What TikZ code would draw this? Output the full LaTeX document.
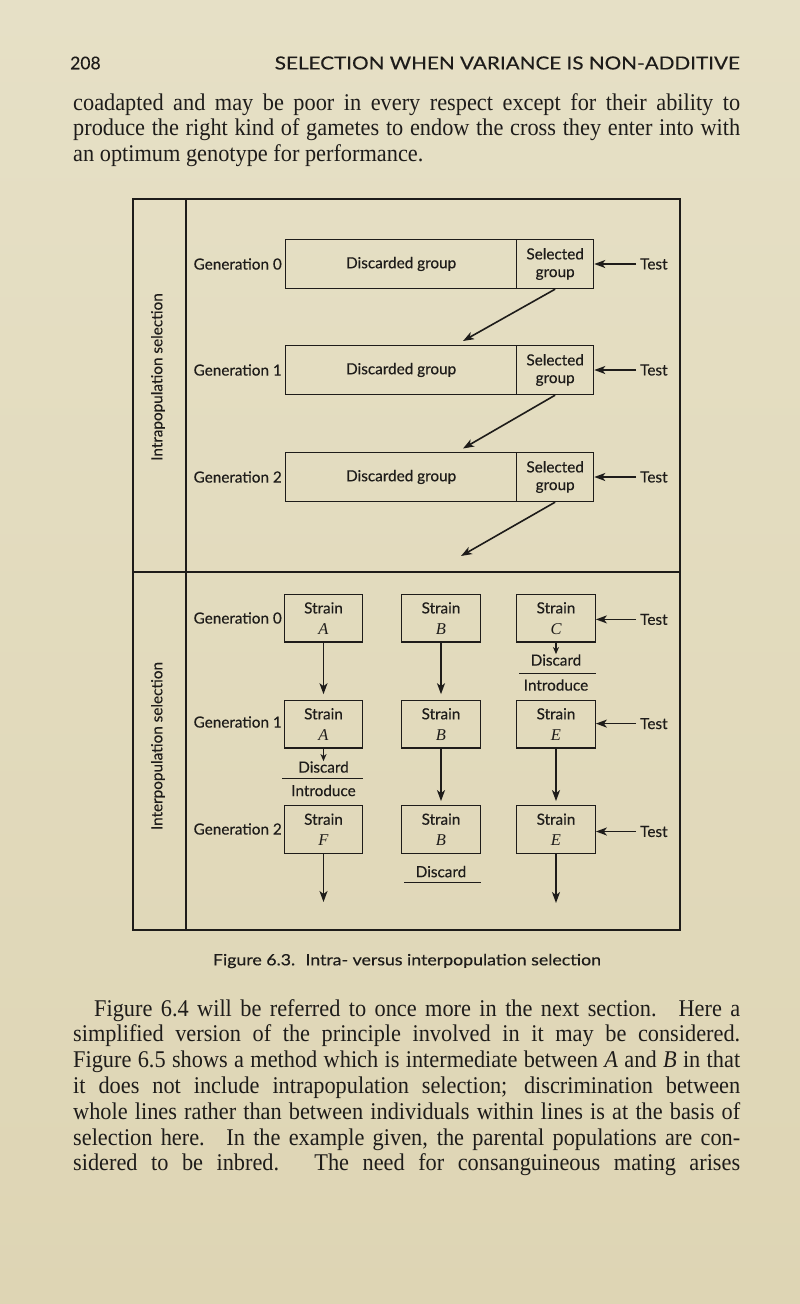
\documentclass[tikz,border=0pt]{standalone}
\usepackage{fontspec}
\setmainfont{Liberation Serif}
\newfontfamily\bodyfont[FakeStretch=0.93]{Liberation Serif}
\newfontfamily\labfont[FakeBold=0.3]{Lato}
\usetikzlibrary{arrows.meta}
\definecolor{paper}{RGB}{230,224,198}
\definecolor{paperb}{RGB}{222,213,180}
\definecolor{ink}{RGB}{30,28,26}
\newcommand{\strn}[1]{Strain\\[3pt]{\rmfamily\itshape\fontsize{16.5}{16}\selectfont #1}}
\begin{document}
\begin{tikzpicture}[x=1pt,y=-1pt,
  every node/.style={text=ink, inner sep=0pt},
  lab/.style={font=\labfont\fontsize{15.3}{17.7}\selectfont},
  body/.style={font=\bodyfont\fontsize{24}{26}\selectfont, anchor=base west},
  frame/.style={draw=ink, line width=1.7pt},
  boxl/.style={draw=ink, line width=1.3pt},
  rulel/.style={draw=ink, line width=1.3pt},
  arr/.style={draw=ink, line width=1.6pt, -{Stealth[length=11pt,width=8pt,inset=3pt]}},
  sarr/.style={draw=ink, line width=1.3pt, -{Stealth[length=7pt,width=6pt,inset=2pt]}},
  grpbox/.style={boxl, lab, minimum height=49pt, anchor=west, align=center},
  strainbox/.style={boxl, lab, minimum width=78.5pt, minimum height=47.5pt, align=center},
  gen/.style={lab, anchor=east},
  testl/.style={lab, anchor=west}
]
\shade[top color=paper,bottom color=paperb] (0,0) rectangle (800,1304);
\useasboundingbox (0,0) rectangle (800,1304);

% header
\node[font=\labfont\fontsize{17.5}{20}\selectfont, anchor=west] (pgnum) at (70,63) {208};
\node[font=\labfont\fontsize{18}{20}\selectfont, anchor=east] (head) at (740,63) {\resizebox{465pt}{\height}{SELECTION WHEN VARIANCE IS NON-ADDITIVE}};

% first paragraph
\node[body] (p1) at (73,110) {\makebox[667pt][s]{coadapted and may be poor in every respect except for their ability to}};
\node[body] (p2) at (73,135.5) {\makebox[667pt][s]{produce the right kind of gametes to endow the cross they enter into with}};
\node[body] (p3) at (73,161) {an optimum genotype for performance.};

% frame
\draw[frame] (133,199) rectangle (680,930);
\draw[frame] (186,199) -- (186,930);
\draw[frame] (133,572) -- (680,572);

\node[lab, rotate=90] (intra) at (158,377) {Intrapopulation selection};
\node[lab, rotate=90] (inter) at (158,746) {Interpopulation selection};

% intrapopulation part
\foreach \i/\yc in {0/264,1/370,2/477}{
  \node[gen] (g\i) at (282,\yc) {Generation \i};
  \node[grpbox, minimum width=231pt] (d\i) at (285,\yc) {Discarded group};
  \node[grpbox, minimum width=77pt] (s\i) at (516,\yc) {Selected\\group};
  \node[testl] (t\i) at (640,\yc) {Test};
  \draw[arr, shorten <=4pt] (t\i) -- (s\i);
}
\coordinate (e0) at (463,341);
\coordinate (e1) at (463,448.5);
\coordinate (e2) at (461,556);
\draw[arr] (s0.south) -- (e0);
\draw[arr] (s1.south) -- (e1);
\draw[arr] (s2.south) -- (e2);

% interpopulation part
\node[gen] (h0) at (282,618) {Generation 0};
\node[gen] (h1) at (282,722) {Generation 1};
\node[gen] (h2) at (282,829) {Generation 2};

\node[strainbox] (a0) at (323.5,618.2) {\strn{A}};
\node[strainbox] (b0) at (441,618.2) {\strn{B}};
\node[strainbox] (c0) at (556,618.2) {\strn{C}};
\node[strainbox] (a1) at (323.5,724.1) {\strn{A}};
\node[strainbox] (b1) at (441,724.1) {\strn{B}};
\node[strainbox] (c1) at (556,724.1) {\strn{E}};
\node[strainbox] (a2) at (323.5,829.5) {\strn{F}};
\node[strainbox] (b2) at (441,829.5) {\strn{B}};
\node[strainbox] (c2) at (556,829.5) {\strn{E}};

\node[testl] (u0) at (640,619.4) {Test};
\node[testl] (u1) at (640,723.6) {Test};
\node[testl] (u2) at (640,831.5) {Test};
\draw[arr, shorten <=4pt] (u0) -- (u0 -| c0.east);
\draw[arr, shorten <=4pt] (u1) -- (u1 -| c1.east);
\draw[arr, shorten <=4pt] (u2) -- (u2 -| c2.east);

% strain C discarded
\node[lab] (dc) at (556,660) {Discard};
\draw[rulel] (519,673.5) coordinate (lc1) -- (596,673.5) coordinate (lc2);
\node[lab] (ic) at (556,685) {Introduce};
\draw[sarr] (c0) -- (dc);

% strain A discarded
\node[lab] (da) at (323.5,767) {Discard};
\draw[rulel] (282,778.7) coordinate (la1) -- (363,778.7) coordinate (la2);
\node[lab] (ia) at (323.5,790.5) {Introduce};
\draw[sarr] (a1) -- (da);

% strain B discarded
\node[lab] (db) at (441,871.6) {Discard};
\draw[rulel] (404,882.6) coordinate (lb1) -- (481,882.6) coordinate (lb2);

\draw[arr, shorten >=5.5pt] (a0) -- (a1);
\draw[arr, shorten >=5.5pt] (b0) -- (b1);
\draw[arr, shorten >=4pt] (b1) -- (b2);
\draw[arr, shorten >=4pt] (c1) -- (c2);
\coordinate (fa) at (323.5,902);
\coordinate (fc) at (556,903);
\draw[arr] (a2) -- (fa);
\draw[arr] (c2) -- (fc);

% caption
\node[font=\labfont\fontsize{15.5}{16}\selectfont] (cap) at (407,961) {\resizebox{388pt}{\height}{Figure 6.3.\hspace{9pt}Intra- versus interpopulation selection}};

% second paragraph
\node[body] (q1) at (94,1016) {\makebox[646pt][s]{Figure 6.4 will be referred to once more in the next section.\hspace{6pt} Here a}};
\node[body] (q2) at (73,1041.8) {\makebox[667pt][s]{simplified version of the principle involved in it may be considered.}};
\node[body] (q3) at (73,1067.6) {\makebox[667pt][s]{Figure 6.5 shows a method which is intermediate between \textit{A} and \textit{B} in that}};
\node[body] (q4) at (73,1093.4) {\makebox[667pt][s]{it does not include intrapopulation selection; discrimination between}};
\node[body] (q5) at (73,1119.2) {\makebox[667pt][s]{whole lines rather than between individuals within lines is at the basis of}};
\node[body] (q6) at (73,1145) {\makebox[667pt][s]{selection here.\hspace{6pt} In the example given, the parental populations are con-}};
\node[body] (q7) at (73,1170.8) {\makebox[667pt][s]{sidered to be inbred.\hspace{4pt} The need for consanguineous mating arises}};
\end{tikzpicture}
\end{document}
